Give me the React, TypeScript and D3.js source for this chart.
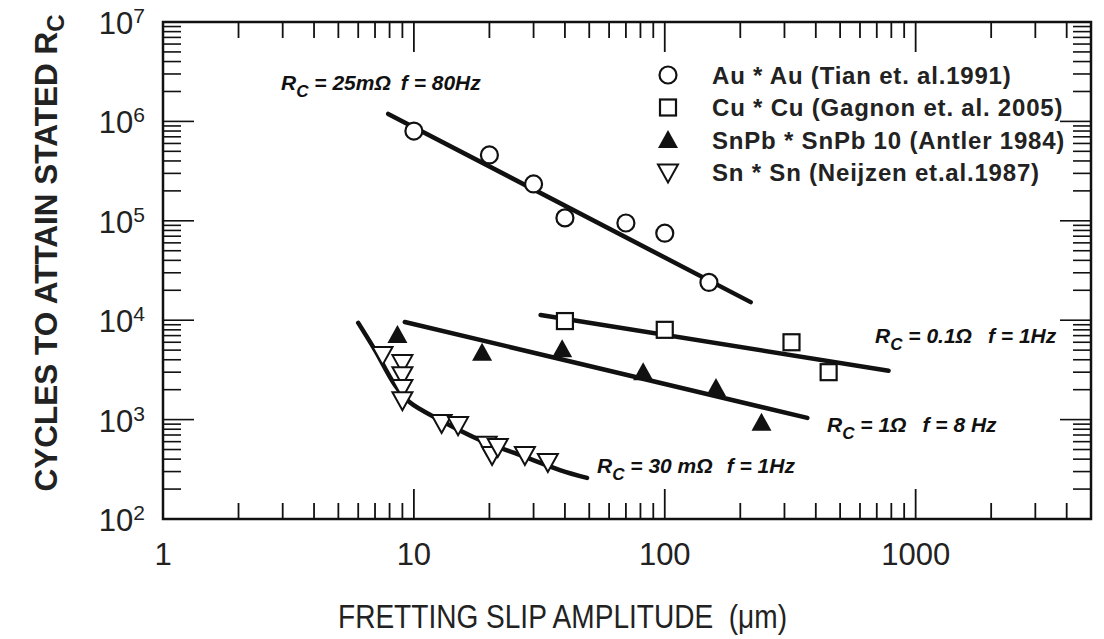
import React from 'react';
import * as d3 from 'd3';

// Au * Au (Tian 1991)
const auX = [10, 20, 30, 40, 70, 100, 150];
const auY = [8.0e5, 4.6e5, 2.35e5, 1.07e5, 9.5e4, 7.5e4, 2.4e4];
const auFitX = [7.9, 220];
const auFitY = [1.19e6, 1.52e4];

// Cu * Cu (Gagnon 2005)
const cuX = [40, 100, 320, 450];
const cuY = [9.8e3, 8.0e3, 6.0e3, 3.0e3];
const cuFitX = [32, 780];
const cuFitY = [1.13e4, 3.1e3];

// SnPb * SnPb (Antler 1984)
const snpbX = [8.6, 18.7, 39, 82, 160, 243];
const snpbY = [7.1e3, 4.7e3, 5.1e3, 3.0e3, 2.08e3, 9.3e2];
const snpbFitX = [9.2, 370];
const snpbFitY = [9.6e3, 1.04e3];

// Sn * Sn (Neijzen 1987)
const snX = [7.5, 9.0, 9.0, 9.0, 9.0, 12.9, 15.0, 19.5, 20.5, 21.6, 27.7, 34.2];
const snY = [4.47e3, 3.7e3, 2.8e3, 2.08e3, 1.57e3, 925, 880, 560, 440, 530, 440, 375];
const snFitX = [6.0, 7.0, 8.4, 9.6, 12.7, 18.3, 26.4, 38.2, 49];
const snFitY = [9.4e3, 5.0e3, 2.23e3, 1.5e3, 990, 624, 441, 311, 259];

const xTickLabels = ['1', '10', '100', '1000'];
const yExponents = ['7', '6', '5', '4', '3', '2'];

const legendLabels = [
  'Au * Au (Tian et. al.1991)',
  'Cu * Cu (Gagnon et. al. 2005)',
  'SnPb * SnPb 10 (Antler 1984)',
  'Sn * Sn (Neijzen et.al.1987)',
];

const W = 1104;
const H = 639;
const margin = { top: 22, right: 13, bottom: 120, left: 163 };

const narrow = '"Liberation Sans Narrow", "Arial Narrow", "Liberation Sans", Arial, sans-serif';
const sans = '"Liberation Sans", Arial, Helvetica, sans-serif';

function zip(xs: number[], ys: number[]): [number, number][] {
  return xs.map((x, i) => [x, ys[i]]);
}

function Marker({ kind, x, y }: { kind: string; x: number; y: number }) {
  if (kind === 'circle') {
    return <circle cx={x} cy={y} r={8.5} fill="#fff" stroke="#111" strokeWidth={2.2} />;
  }
  if (kind === 'square') {
    return <rect x={x - 8} y={y - 8} width={16} height={16} fill="#fff" stroke="#111" strokeWidth={2.2} />;
  }
  if (kind === 'up') {
    return <path d={`M${x},${y - 10}L${x + 10},${y + 8}L${x - 10},${y + 8}Z`} fill="#111" />;
  }
  return (
    <path
      d={`M${x - 10},${y - 8}L${x + 10},${y - 8}L${x},${y + 10}Z`}
      fill="#fff"
      stroke="#111"
      strokeWidth={2}
    />
  );
}

function Annot({ x, y, main, tail, gap }: { x: number; y: number; main: string; tail: string; gap: number }) {
  return (
    <text x={x} y={y} fontFamily={narrow} fontStyle="italic" fontWeight="bold" fontSize={21} fill="#111">
      R
      <tspan fontSize={17} dy={7}>C</tspan>
      <tspan dy={-7}>{main}</tspan>
      <tspan dx={gap}>{tail}</tspan>
    </text>
  );
}

export default function App() {
  const w = W - margin.left - margin.right;
  const h = H - margin.top - margin.bottom;

  const x = d3.scaleLog().domain([1, 5000]).range([0, w]);
  const y = d3.scaleLog().domain([100, 1e7]).range([h, 0]);

  const line = d3
    .line<[number, number]>()
    .x((d) => x(d[0]))
    .y((d) => y(d[1]));
  const curve = d3
    .line<[number, number]>()
    .x((d) => x(d[0]))
    .y((d) => y(d[1]))
    .curve(d3.curveCatmullRom);

  const xTicks = x.ticks(20);
  const yTicks = y.ticks(50);
  const isMajor = (v: number) => Math.abs(Math.log10(v) - Math.round(Math.log10(v))) < 1e-9;

  const series = [
    { kind: 'circle', pts: zip(auX, auY) },
    { kind: 'square', pts: zip(cuX, cuY) },
    { kind: 'up', pts: zip(snpbX, snpbY) },
    { kind: 'down', pts: zip(snX, snY) },
  ];

  return (
    <svg width={W} height={H} style={{ position: 'absolute', left: 0, top: 0, background: '#fff' }}>
      <g transform={`translate(${margin.left},${margin.top})`}>
        {/* ticks */}
        {xTicks.map((t, i) => {
          const len = isMajor(t) ? 30 : 16;
          return (
            <g key={'xt' + i} stroke="#111" strokeWidth={1.8}>
              <line x1={x(t)} x2={x(t)} y1={h} y2={h - len} />
              <line x1={x(t)} x2={x(t)} y1={0} y2={len} />
            </g>
          );
        })}
        {yTicks.map((t, i) => {
          const len = isMajor(t) ? 31 : 18;
          return (
            <g key={'yt' + i} stroke="#111" strokeWidth={1.6}>
              <line x1={0} x2={len} y1={y(t)} y2={y(t)} />
              <line x1={w} x2={w - len} y1={y(t)} y2={y(t)} />
            </g>
          );
        })}
        <rect x={0} y={0} width={w} height={h} fill="none" stroke="#111" strokeWidth={2.5} />

        {/* fits */}
        <g fill="none" stroke="#111" strokeWidth={4.5} strokeLinecap="round">
          <path d={line(zip(auFitX, auFitY)) || ''} />
          <path d={line(zip(cuFitX, cuFitY)) || ''} />
          <path d={line(zip(snpbFitX, snpbFitY)) || ''} />
          <path d={curve(zip(snFitX, snFitY)) || ''} />
        </g>

        {/* markers */}
        {series.map((s) =>
          s.pts.map((p, i) => <Marker key={s.kind + i} kind={s.kind} x={x(p[0])} y={y(p[1])} />)
        )}

        {/* x tick labels */}
        {xTickLabels.map((l) => (
          <text
            key={l}
            x={x(+l)}
            y={h + 46}
            textAnchor="middle"
            fontFamily={narrow}
            fontSize={31}
            fill="#222"
          >
            {l}
          </text>
        ))}

        {/* y tick labels */}
        {yExponents.map((e) => (
          <text
            key={e}
            x={-18}
            y={y(Math.pow(10, +e)) + 12}
            textAnchor="end"
            fontFamily={narrow}
            fontSize={31}
            fill="#222"
          >
            10
            <tspan fontSize={21} dy={-11}>{e}</tspan>
          </text>
        ))}

        {/* annotations */}
        <Annot x={118} y={68} main=" = 25mΩ" tail="f = 80Hz" gap={10} />
        <Annot x={712} y={321} main=" = 0.1Ω" tail="f = 1Hz" gap={16} />
        <Annot x={664} y={410} main=" = 1Ω" tail="f = 8 Hz" gap={16} />
        <Annot x={434} y={451} main=" = 30 mΩ" tail="f = 1Hz" gap={14} />

        {/* legend */}
        {legendLabels.map((l, i) => (
          <g key={l} transform={`translate(505,${53 + i * 32.5})`}>
            <Marker kind={series[i].kind} x={0} y={0} />
            <text
              x={44}
              y={8.5}
              fontFamily={sans}
              fontWeight="bold"
              fontSize={24}
              letterSpacing={0.8}
              fill="#222"
            >
              {l}
            </text>
          </g>
        ))}
      </g>

      {/* axis titles */}
      <text
        x={338}
        y={628}
        fontFamily={narrow}
        fontSize={34}
        textLength={449}
        lengthAdjust="spacingAndGlyphs"
        fill="#222"
        style={{ whiteSpace: 'pre' }}
      >
        {'FRETTING SLIP AMPLITUDE  (μm)'}
      </text>
      <text
        transform="translate(57,253) rotate(-90)"
        textAnchor="middle"
        fontFamily={sans}
        fontWeight="bold"
        fontSize={31.5}
        fill="#222"
      >
        CYCLES TO ATTAIN STATED R
        <tspan fontSize={24} dy={7}>C</tspan>
      </text>
    </svg>
  );
}
